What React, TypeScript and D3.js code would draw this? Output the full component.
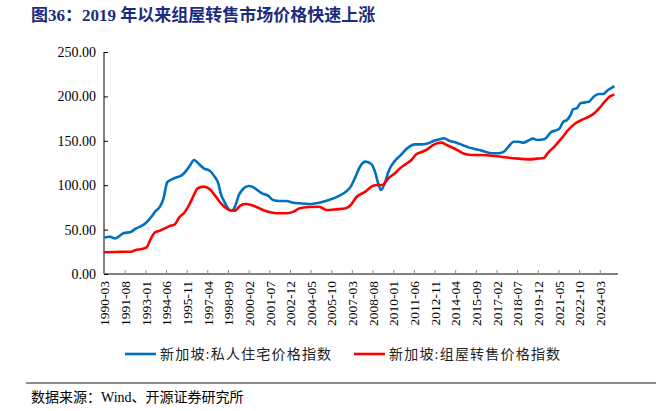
import React, { useEffect, useRef } from 'react';
import * as d3 from 'd3';

// 新加坡:私人住宅价格指数
const privateIndex: [string, number][] = [
  ['1990-03', 41.0], ['1990-08', 42.0], ['1990-12', 40.0], ['1991-07', 45.8], ['1992-01', 47.3],
  ['1992-05', 51.0], ['1992-11', 55.0], ['1993-02', 58.2], ['1993-06', 64.5], ['1993-09', 70.2],
  ['1994-01', 75.8], ['1994-04', 85.2], ['1994-07', 103.2], ['1994-10', 106.0], ['1995-03', 109.0],
  ['1995-07', 111.1], ['1995-11', 117.0], ['1996-02', 122.7], ['1996-05', 128.4], ['1996-08', 125.4],
  ['1997-01', 119.0], ['1997-06', 116.3], ['1997-10', 109.6], ['1998-01', 102.0], ['1998-03', 90.8],
  ['1998-06', 81.4], ['1998-09', 74.0], ['1998-12', 71.0], ['1999-03', 76.6], ['1999-06', 89.0],
  ['1999-10', 96.5], ['2000-02', 99.1], ['2000-05', 98.4], ['2000-09', 94.6], ['2001-01', 90.8],
  ['2001-06', 88.2], ['2001-10', 83.3], ['2002-03', 82.2], ['2002-09', 82.2], ['2003-03', 80.3],
  ['2003-08', 79.6], ['2004-04', 78.8], ['2004-12', 80.3], ['2005-08', 83.3], ['2006-04', 87.8],
  ['2006-10', 92.7], ['2007-02', 98.4], ['2007-06', 109.6], ['2007-10', 121.6], ['2008-02', 126.5],
  ['2008-07', 123.9], ['2008-10', 115.2], ['2009-01', 100.2], ['2009-03', 94.6], ['2009-06', 102.1],
  ['2009-09', 115.2], ['2010-03', 128.4], ['2010-07', 133.5], ['2010-11', 139.6], ['2011-03', 144.1],
  ['2011-07', 146.0], ['2012-01', 146.0], ['2012-06', 147.2], ['2012-10', 149.8], ['2013-03', 151.7],
  ['2013-07', 152.8], ['2013-11', 150.1], ['2014-05', 147.9], ['2014-10', 145.3], ['2015-03', 142.6],
  ['2015-09', 140.4], ['2016-02', 138.9], ['2016-06', 137.0], ['2016-10', 135.9], ['2017-02', 135.9],
  ['2017-06', 136.6], ['2017-09', 138.9], ['2018-01', 145.3], ['2018-04', 149.0], ['2018-08', 149.0],
  ['2018-12', 147.9], ['2019-04', 150.1], ['2019-08', 152.4], ['2019-12', 150.9], ['2020-05', 151.7],
  ['2020-07', 153.5], ['2020-11', 159.9], ['2021-04', 162.2], ['2021-06', 164.1], ['2021-09', 171.5],
  ['2021-12', 173.4], ['2022-03', 179.1], ['2022-05', 185.5], ['2022-08', 186.6], ['2022-11', 192.2],
  ['2023-01', 192.9], ['2023-06', 194.0], ['2023-10', 199.7], ['2024-02', 202.7], ['2024-06', 202.7],
  ['2024-09', 206.4], ['2025-01', 209.8], ['2025-03', 211.5],
];

// 新加坡:组屋转售价格指数
const hdbIndex: [string, number][] = [
  ['1990-03', 24.4], ['1991-01', 24.8], ['1991-09', 25.1], ['1992-01', 25.0], ['1992-05', 27.0],
  ['1992-10', 28.2], ['1993-02', 30.0], ['1993-05', 38.3], ['1993-09', 47.0], ['1994-01', 48.8],
  ['1994-05', 51.4], ['1994-09', 54.0], ['1995-01', 55.6], ['1995-05', 63.8], ['1995-09', 69.0],
  ['1996-01', 77.7], ['1996-05', 89.0], ['1996-08', 96.5], ['1997-01', 98.4], ['1997-06', 95.4],
  ['1997-10', 89.0], ['1998-02', 81.4], ['1998-06', 75.8], ['1998-10', 72.0], ['1999-03', 71.3],
  ['1999-05', 74.0], ['1999-08', 77.7], ['1999-12', 78.8], ['2000-04', 77.7], ['2000-08', 75.8],
  ['2000-12', 73.2], ['2001-04', 71.0], ['2001-10', 69.0], ['2002-03', 68.4], ['2002-09', 68.4],
  ['2003-03', 70.2], ['2003-08', 74.0], ['2004-04', 75.5], ['2004-12', 75.8], ['2005-03', 74.0],
  ['2005-06', 72.0], ['2006-02', 72.8], ['2006-10', 74.0], ['2007-02', 77.7], ['2007-07', 87.0],
  ['2008-02', 92.7], ['2008-08', 99.1], ['2008-12', 100.2], ['2009-04', 100.2], ['2009-09', 107.8],
  ['2010-03', 114.1], ['2010-07', 119.5], ['2010-11', 123.5], ['2011-04', 128.4], ['2011-08', 134.8],
  ['2012-01', 137.7], ['2012-05', 140.4], ['2012-09', 144.5], ['2013-01', 147.2], ['2013-05', 147.9],
  ['2013-09', 145.3], ['2014-03', 141.6], ['2014-08', 137.7], ['2014-12', 135.1], ['2015-06', 134.0],
  ['2016-02', 134.0], ['2016-10', 133.2], ['2017-06', 132.1], ['2017-12', 131.0], ['2018-08', 129.9],
  ['2019-04', 129.1], ['2019-12', 129.9], ['2020-05', 130.6], ['2020-08', 135.9], ['2021-02', 144.1],
  ['2021-08', 153.5], ['2022-01', 162.2], ['2022-07', 169.7], ['2022-12', 173.4], ['2023-06', 177.1],
  ['2023-11', 181.7], ['2024-03', 187.3], ['2024-07', 194.0], ['2024-11', 199.7], ['2025-03', 202.2],
];

const xTickLabels = [
  '1990-03', '1991-08', '1993-01', '1994-06', '1995-11', '1997-04', '1998-09', '2000-02', '2001-07',
  '2002-12', '2004-05', '2005-10', '2007-03', '2008-08', '2010-01', '2011-06', '2012-11', '2014-04',
  '2015-09', '2017-02', '2018-07', '2019-12', '2021-05', '2022-10', '2024-03',
];
const yTicks = [0, 50, 100, 150, 200, 250];

const seriesNames = ['新加坡:私人住宅价格指数', '新加坡:组屋转售价格指数'];
const seriesColors = ['#0070C0', '#FF0000'];

const title = '图36：2019 年以来组屋转售市场价格快速上涨';
const source = '数据来源：Wind、开源证券研究所';

const SERIF = '"Liberation Serif", "Times New Roman", "Noto Sans CJK SC", serif';

const App: React.FC = () => {
  const ref = useRef<SVGSVGElement | null>(null);

  useEffect(() => {
    if (!ref.current) return;
    const svg = d3.select(ref.current);
    svg.selectAll('*').remove();

    const parse = d3.timeParse('%Y-%m');
    const left = 104, right = 618, top = 52, bottom = 274;

    const x = d3.scaleTime()
      .domain([parse('1990-03') as Date, parse('2025-06') as Date])
      .range([left, right]);
    const y = d3.scaleLinear().domain([0, 250]).range([bottom, top]);

    // title
    svg.append('text')
      .attr('x', 31).attr('y', 21)
      .attr('fill', '#1c2c7c')
      .style('font-family', SERIF)
      .style('font-size', '17px')
      .style('font-weight', 'bold')
      .text(title);

    // y axis
    const yAxis = svg.append('g').attr('transform', `translate(${left},0)`)
      .call(d3.axisLeft(y).tickValues(yTicks).tickSize(-4).tickPadding(8).tickFormat(d => (d as number).toFixed(2)));
    yAxis.select('.domain').attr('stroke', '#000').attr('d', `M0,${top}V${bottom}`);
    yAxis.selectAll('.tick line').attr('stroke', '#000');
    yAxis.selectAll('.tick text')
      .attr('fill', '#000')
      .style('font-family', SERIF)
      .style('font-size', '14px');

    // x axis
    const xAxis = svg.append('g').attr('transform', `translate(0,${bottom})`)
      .call(d3.axisBottom(x).tickValues(xTickLabels.map(s => parse(s) as Date)).tickSize(-4).tickFormat(d3.timeFormat('%Y-%m') as any));
    xAxis.select('.domain').attr('stroke', '#000').attr('d', `M${left},0H${right}`);
    xAxis.selectAll('.tick line').attr('stroke', '#888');
    xAxis.selectAll('.tick text')
      .attr('fill', '#000')
      .attr('transform', 'rotate(-90)')
      .attr('x', -7).attr('y', 0).attr('dy', '0.35em')
      .attr('text-anchor', 'end')
      .style('font-family', SERIF)
      .style('font-size', '13.5px');

    // lines
    const line = d3.line<[string, number]>()
      .x(d => x(parse(d[0]) as Date))
      .y(d => y(d[1]))
      .curve(d3.curveMonotoneX);

    [privateIndex, hdbIndex].forEach((data, i) => {
      svg.append('path')
        .datum(data)
        .attr('fill', 'none')
        .attr('stroke', seriesColors[i])
        .attr('stroke-width', 2.6)
        .attr('stroke-linejoin', 'round')
        .attr('d', line);
    });

    // legend
    const legendX = [125, 354];
    seriesNames.forEach((name, i) => {
      const g = svg.append('g').attr('transform', `translate(${legendX[i]},354)`);
      g.append('line').attr('x1', 0).attr('x2', 31).attr('y1', 0).attr('y2', 0)
        .attr('stroke', seriesColors[i]).attr('stroke-width', 2.6);
      g.append('text').attr('x', 35).attr('y', 5)
        .attr('fill', '#222')
        .style('font-family', SERIF)
        .style('font-size', '14px')
        .style('letter-spacing', '1.2px')
        .text(name);
    });

    // footer rule + source
    svg.append('line').attr('x1', 26).attr('x2', 656).attr('y1', 383).attr('y2', 383)
      .attr('stroke', '#8c8c8c').attr('stroke-width', 2);
    svg.append('text').attr('x', 31).attr('y', 402)
      .attr('fill', '#000')
      .style('font-family', SERIF)
      .style('font-size', '14px')
      .text(source);
  }, []);

  return (
    <svg ref={ref} width={656} height={411}
      style={{ position: 'absolute', left: 0, top: 0, background: '#fff' }} />
  );
};

export default App;
